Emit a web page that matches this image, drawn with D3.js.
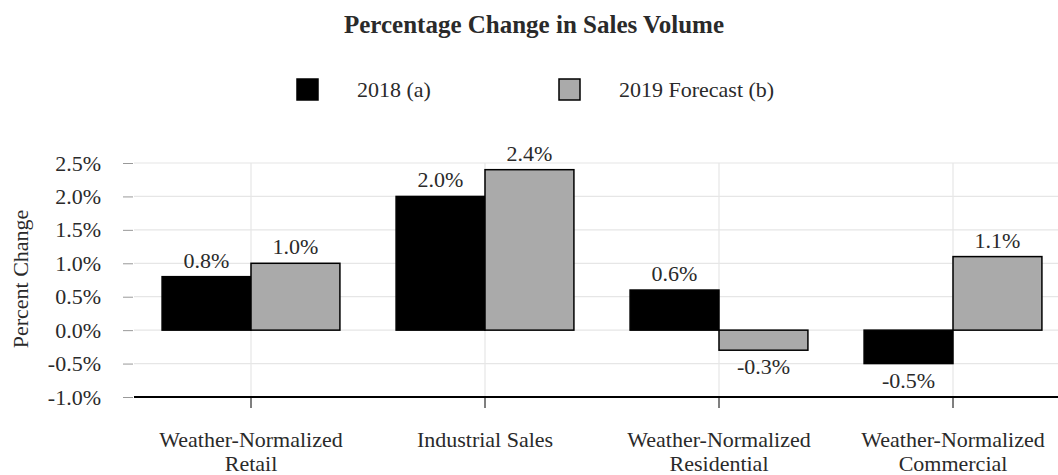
<!DOCTYPE html>
<html>
<head>
<meta charset="utf-8">
<script src="https://cdn.jsdelivr.net/npm/d3@7"></script>
<style>
  body { margin: 0; background: #fff; }
  text { font-family: "Liberation Serif", "Times New Roman", serif; fill: #2a2a2a; }
</style>
</head>
<body>
<script>
// data
var categories = [["Weather-Normalized", "Retail"], ["Industrial Sales"], ["Weather-Normalized", "Residential"], ["Weather-Normalized", "Commercial"]];
var seriesNames = ["2018 (a)", "2019 Forecast (b)"];
var values2018 = [0.8, 2.0, 0.6, -0.5];
var values2019 = [1.0, 2.4, -0.3, 1.1];
var yTicks = [-1.0, -0.5, 0.0, 0.5, 1.0, 1.5, 2.0, 2.5];
var colors = ["#000000", "#aaaaaa"];

var W = 1058, H = 475;
var svg = d3.select("body").append("svg")
  .attr("width", W).attr("height", H);

// plain hyphen for negatives, like the original
function pct(d) {
  return (d < 0 ? "-" : "") + Math.abs(d).toFixed(1) + "%";
}

// scales
var x = d3.scaleBand()
  .domain(d3.range(categories.length))
  .range([134, 1070])
  .paddingInner(0.24)
  .paddingOuter(0.12);
var x1 = d3.scaleBand().domain([0, 1]).range([0, x.bandwidth()]);
var y = d3.scaleLinear().domain([-1, 2.5]).range([397, 163]);

// grid lines
svg.append("g").selectAll("line")
  .data(yTicks.slice(1))
  .enter().append("line")
  .attr("x1", 134).attr("x2", W)
  .attr("y1", d => y(d)).attr("y2", d => y(d))
  .attr("stroke", "#e6e6e6").attr("stroke-width", 1.2);
svg.append("g").selectAll("line")
  .data(d3.range(categories.length))
  .enter().append("line")
  .attr("x1", d => x(d) + x.bandwidth() / 2).attr("x2", d => x(d) + x.bandwidth() / 2)
  .attr("y1", y(2.5)).attr("y2", y(-1))
  .attr("stroke", "#e6e6e6").attr("stroke-width", 1.2);

// y axis
var yAxis = d3.axisLeft(y).tickValues(yTicks).tickSize(10).tickPadding(22)
  .tickFormat(pct);
var ya = svg.append("g").attr("transform", "translate(133,0)").call(yAxis);
ya.select(".domain").remove();
ya.selectAll(".tick line").attr("stroke", "#999");
ya.selectAll(".tick text").attr("font-size", 22).attr("font-family", "Liberation Serif").attr("fill", "#2a2a2a");

// bars
var rows = categories.map((c, i) => [values2018[i], values2019[i]]);
var groups = svg.append("g").selectAll("g")
  .data(rows).enter().append("g")
  .attr("transform", (d, i) => "translate(" + x(i) + ",0)");
groups.selectAll("rect")
  .data(d => d).enter().append("rect")
  .attr("x", (d, j) => x1(j))
  .attr("width", x1.bandwidth())
  .attr("y", d => y(Math.max(0, d)))
  .attr("height", d => Math.abs(y(d) - y(0)))
  .attr("fill", (d, j) => colors[j])
  .attr("stroke", "#000").attr("stroke-width", 1.5);
groups.selectAll("text")
  .data(d => d).enter().append("text")
  .attr("x", (d, j) => x1(j) + x1.bandwidth() / 2)
  .attr("y", d => d >= 0 ? y(d) - 9 : y(d) + 24)
  .attr("text-anchor", "middle")
  .attr("font-size", 22)
  .text(pct);

// x axis
svg.append("line")
  .attr("x1", 134).attr("x2", W)
  .attr("y1", y(-1)).attr("y2", y(-1))
  .attr("stroke", "#000").attr("stroke-width", 2.2);
var xg = svg.append("g").selectAll("g")
  .data(categories).enter().append("g")
  .attr("transform", (d, i) => "translate(" + (x(i) + x.bandwidth() / 2) + ",0)");
xg.append("line")
  .attr("y1", y(-1)).attr("y2", y(-1) + 11)
  .attr("stroke", "#000").attr("stroke-width", 1);
xg.append("text")
  .attr("text-anchor", "middle")
  .attr("font-size", 22)
  .selectAll("tspan").data(d => d).enter().append("tspan")
  .attr("x", 0)
  .attr("y", (d, k) => 447 + k * 24)
  .text(d => d);

// y axis title
svg.append("text")
  .attr("transform", "translate(28,279) rotate(-90)")
  .attr("text-anchor", "middle")
  .attr("font-size", 22)
  .text("Percent Change");

// title
svg.append("text")
  .attr("x", 534).attr("y", 33)
  .attr("text-anchor", "middle")
  .attr("font-size", 25).attr("font-weight", "bold")
  .attr("fill", "#111")
  .text("Percentage Change in Sales Volume");

// legend
var legX = [297, 559];
var leg = svg.append("g").selectAll("g")
  .data(seriesNames).enter().append("g")
  .attr("transform", (d, i) => "translate(" + legX[i] + ",79)");
leg.append("rect")
  .attr("width", 21).attr("height", 21)
  .attr("fill", (d, i) => colors[i])
  .attr("stroke", "#000").attr("stroke-width", 1.5);
leg.append("text")
  .attr("x", 60).attr("y", 18)
  .attr("font-size", 22)
  .text(d => d);
</script>
</body>
</html>
